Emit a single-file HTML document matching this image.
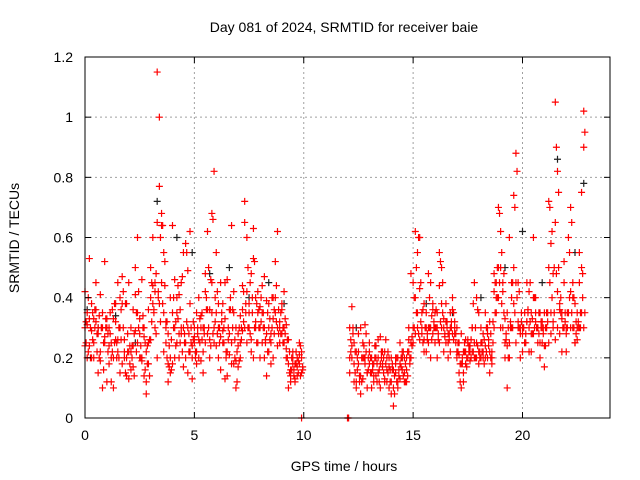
<!DOCTYPE html>
<html><head><meta charset="utf-8"><style>
body{margin:0;background:#fff}
svg{display:block;font-family:"Liberation Sans",sans-serif}
</style></head><body>
<svg id="chart" width="640" height="480">
<rect width="640" height="480" fill="#fff"/>
<text x="344" y="32" text-anchor="middle" font-size="14">Day 081 of 2024, SRMTID for receiver baie</text>
<text x="344" y="471" text-anchor="middle" font-size="14">GPS time / hours</text>
<text transform="translate(19,238) rotate(-90)" text-anchor="middle" font-size="14">SRMTID / TECUs</text>
<g id="grid"></g>
<g id="marks"></g>
<g id="axes"></g>
</svg>
<script>
const xTicks=[0,5,10,15,20];
const yTicks=[0,0.2,0.4,0.6,0.8,1,1.2];
const yTickLabels=["0","0.2","0.4","0.6","0.8","1","1.2"];
const segAStart=0.0, segAStart2=0.05, segBStart=12.1, segBStart2=12.15, step=0.1;
const redA1=[0.42,0.31,0.24,0.2,0.33,0.45,0.28,0.22,0.35,0.52,0.3,0.18,0.25,0.1,0.38,0.22,0.4,0.47,0.2,0.14,0.22,0.3,0.36,0.5,0.6,0.28,0.19,0.14,0.08,0.36,0.5,0.38,0.42,1.15,0.77,0.64,0.55,0.32,0.18,0.15,0.35,0.46,0.25,0.41,0.3,0.55,0.2,0.49,0.62,0.24,0.3,0.18,0.26,0.34,0.22,0.42,0.28,0.36,0.68,0.82,0.55,0.38,0.16,0.29,0.45,0.22,0.36,0.64,0.18,0.1,0.28,0.34,0.44,0.72,0.6,0.38,0.48,0.63,0.4,0.25,0.3,0.44,0.2,0.14,0.38,0.28,0.4,0.52,0.62,0.3,0.36,0.25,0.31,0.18,0.14,0.2,0.12,0.17,0.25,0.2];
const redA2=[0.24,0.35,0.53,0.29,0.2,0.36,0.15,0.41,0.3,0.25,0.12,0.3,0.2,0.33,0.26,0.45,0.15,0.38,0.22,0.2,0.45,0.16,0.24,0.29,0.35,0.2,0.46,0.3,0.12,0.25,0.4,0.6,0.45,0.65,1.0,0.68,0.35,0.25,0.12,0.2,0.64,0.2,0.35,0.28,0.45,0.17,0.58,0.3,0.22,0.13,0.25,0.35,0.2,0.3,0.15,0.48,0.62,0.26,0.45,0.3,0.35,0.2,0.27,0.38,0.13,0.46,0.21,0.18,0.35,0.3,0.17,0.25,0.36,0.65,0.42,0.3,0.22,0.53,0.32,0.42,0.2,0.35,0.47,0.28,0.22,0.18,0.33,0.4,0.24,0.32,0.28,0.42,0.23,0.1,0.16,0.22,0.18,0.14,0.21,0.15];
const redA3=[0.3,0.2,0.33,0.38,0.25,0.32,0.3,0.19,0.1,0.27,0.33,0.24,0.12,0.2,0.32,0.26,0.3,0.18,0.26,0.38,0.13,0.22,0.17,0.41,0.25,0.33,0.2,0.27,0.22,0.18,0.26,0.44,0.3,0.2,0.38,0.45,0.22,0.3,0.28,0.4,0.18,0.3,0.4,0.2,0.28,0.3,0.25,0.15,0.38,0.2,0.27,0.22,0.4,0.19,0.3,0.25,0.36,0.2,0.35,0.25,0.24,0.3,0.45,0.25,0.33,0.14,0.28,0.25,0.42,0.19,0.24,0.2,0.29,0.3,0.25,0.35,0.26,0.2,0.3,0.35,0.37,0.25,0.3,0.39,0.3,0.25,0.2,0.35,0.3,0.25,0.38,0.3,0.2,0.26,0.12,0.18,0.13,0.2,0.18,0.22];
const redA4=[0.25,0.4,0.2,0.35,0.3,0.22,0.34,0.3,0.16,0.33,0.28,0.35,0.22,0.38,0.25,0.2,0.36,0.42,0.15,0.22,0.18,0.24,0.14,0.35,0.42,0.2,0.3,0.16,0.24,0.14,0.45,0.35,0.48,0.42,0.6,0.64,0.52,0.2,0.17,0.16,0.4,0.32,0.44,0.25,0.47,0.28,0.55,0.22,0.3,0.26,0.2,0.28,0.25,0.35,0.3,0.4,0.5,0.46,0.66,0.4,0.42,0.3,0.35,0.25,0.2,0.3,0.4,0.36,0.2,0.12,0.19,0.3,0.42,0.35,0.5,0.45,0.4,0.52,0.38,0.3,0.4,0.35,0.25,0.22,0.33,0.4,0.36,0.44,0.28,0.35,0.3,0.28,0.2,0.15,0.2,0.16,0.22,0.19,0.24,0.17];
const redA5=[0.32,0.22,0.3,0.26,0.36,0.28,0.2,0.3,0.25,0.3,0.22,0.28,0.36,0.25,0.2,0.3,0.26,0.3,0.38,0.28,0.24,0.2,0.28,0.22,0.3,0.24,0.34,0.25,0.18,0.26,0.32,0.36,0.28,0.4,0.32,0.38,0.44,0.32,0.24,0.26,0.3,0.24,0.33,0.36,0.22,0.25,0.32,0.28,0.25,0.32,0.22,0.3,0.33,0.26,0.28,0.36,0.3,0.24,0.28,0.32,0.28,0.25,0.32,0.3,0.22,0.26,0.36,0.3,0.26,0.22,0.3,0.26,0.32,0.38,0.3,0.28,0.35,0.3,0.25,0.36,0.32,0.3,0.26,0.35,0.26,0.3,0.28,0.32,0.36,0.28,0.25,0.33,0.26,0.22,0.16,0.14,0.18,0.15,0.14,0.16];
const redB1=[0.2,0.37,0.25,0.12,0.28,0.08,0.2,0.31,0.15,0.22,0.1,0.18,0.14,0.2,0.27,0.17,0.22,0.12,0.2,0.08,0.04,0.18,0.12,0.25,0.16,0.2,0.12,0.26,0.48,0.3,0.62,0.55,0.43,0.28,0.38,0.22,0.3,0.45,0.36,0.3,0.2,0.55,0.5,0.33,0.25,0.2,0.3,0.4,0.28,0.3,0.21,0.1,0.15,0.22,0.26,0.19,0.3,0.45,0.4,0.22,0.3,0.2,0.35,0.2,0.15,0.2,0.48,0.45,0.7,0.5,0.42,0.33,0.1,0.25,0.4,0.74,0.88,0.45,0.28,0.22,0.35,0.32,0.42,0.28,0.6,0.4,0.3,0.35,0.25,0.17,0.3,0.72,0.58,0.48,1.05,0.82,0.36,0.22,0.45,0.3,0.6,0.7,0.45,0.38,0.26,0.3,0.5,1.02];
const redB2=[0.3,0.24,0.18,0.1,0.22,0.3,0.13,0.18,0.1,0.25,0.15,0.12,0.2,0.26,0.1,0.18,0.13,0.16,0.1,0.2,0.1,0.15,0.2,0.13,0.22,0.12,0.2,0.3,0.25,0.45,0.4,0.3,0.6,0.35,0.26,0.3,0.48,0.2,0.38,0.25,0.35,0.44,0.3,0.22,0.38,0.28,0.22,0.36,0.32,0.22,0.15,0.28,0.12,0.18,0.25,0.22,0.3,0.2,0.25,0.35,0.2,0.28,0.24,0.3,0.22,0.18,0.42,0.4,0.5,0.62,0.3,0.2,0.24,0.6,0.3,0.5,0.45,0.3,0.2,0.3,0.25,0.45,0.22,0.35,0.4,0.32,0.25,0.2,0.3,0.24,0.35,0.5,0.35,0.3,0.65,0.42,0.28,0.33,0.52,0.22,0.35,0.42,0.3,0.25,0.35,0.55,0.75,0.9];
const redB3=[0.15,0.2,0.12,0.22,0.18,0.14,0.25,0.2,0.15,0.18,0.2,0.14,0.24,0.15,0.18,0.22,0.12,0.2,0.17,0.12,0.16,0.2,0.1,0.18,0.2,0.15,0.16,0.22,0.2,0.25,0.28,0.35,0.26,0.3,0.22,0.35,0.25,0.3,0.28,0.35,0.3,0.25,0.38,0.3,0.32,0.25,0.35,0.28,0.3,0.2,0.25,0.18,0.22,0.26,0.2,0.24,0.22,0.25,0.2,0.18,0.25,0.22,0.2,0.28,0.32,0.22,0.3,0.35,0.4,0.3,0.45,0.25,0.35,0.2,0.45,0.38,0.25,0.32,0.3,0.28,0.25,0.32,0.3,0.22,0.28,0.35,0.3,0.25,0.32,0.35,0.3,0.25,0.28,0.32,0.26,0.3,0.38,0.35,0.3,0.28,0.35,0.3,0.4,0.25,0.3,0.45,0.35,0.3];
const redB4=[0.26,0.3,0.22,0.16,0.12,0.2,0.24,0.28,0.2,0.15,0.18,0.24,0.12,0.16,0.22,0.2,0.26,0.15,0.12,0.16,0.08,0.2,0.14,0.17,0.22,0.12,0.14,0.2,0.27,0.4,0.5,0.6,0.45,0.36,0.3,0.26,0.4,0.34,0.3,0.36,0.26,0.52,0.45,0.28,0.32,0.26,0.3,0.35,0.25,0.25,0.12,0.18,0.22,0.17,0.24,0.2,0.38,0.3,0.36,0.22,0.25,0.18,0.3,0.26,0.2,0.32,0.45,0.5,0.68,0.55,0.48,0.26,0.2,0.3,0.45,0.7,0.82,0.42,0.35,0.3,0.25,0.36,0.45,0.33,0.4,0.3,0.35,0.3,0.28,0.24,0.35,0.7,0.62,0.5,0.9,0.75,0.4,0.3,0.35,0.35,0.55,0.65,0.4,0.32,0.3,0.35,0.48,0.95];
const redB5=[0.22,0.28,0.15,0.2,0.14,0.12,0.2,0.22,0.16,0.2,0.16,0.2,0.18,0.12,0.2,0.15,0.18,0.22,0.16,0.18,0.14,0.12,0.16,0.2,0.14,0.18,0.22,0.18,0.24,0.3,0.35,0.28,0.32,0.25,0.3,0.28,0.3,0.26,0.32,0.3,0.28,0.32,0.35,0.27,0.3,0.28,0.32,0.26,0.28,0.22,0.18,0.2,0.25,0.2,0.22,0.26,0.22,0.2,0.24,0.2,0.22,0.26,0.22,0.24,0.28,0.25,0.35,0.4,0.45,0.38,0.35,0.28,0.3,0.32,0.3,0.35,0.4,0.3,0.32,0.3,0.28,0.35,0.32,0.28,0.3,0.3,0.28,0.32,0.3,0.3,0.32,0.45,0.4,0.35,0.48,0.5,0.35,0.3,0.32,0.3,0.4,0.35,0.3,0.28,0.32,0.3,0.4,0.35];
const zeroTimes=[9.9,12.0,12.05];
const zeroValues=[0,0,0];
const blackTimes=[0.1,0.6,1.4,2.3,3.3,4.2,4.9,5.7,6.6,7.5,8.4,9.1,12.4,13.3,14.5,15.6,16.8,18.1,19.2,20.0,20.9,21.6,22.4,22.8];
const blackValues=[0.36,0.3,0.34,0.25,0.72,0.6,0.55,0.48,0.5,0.4,0.45,0.38,0.3,0.24,0.2,0.38,0.35,0.4,0.5,0.62,0.45,0.86,0.55,0.78];

const L=85,R=610,T=57,B=418,XMAX=24,YMAX=1.2;
const xs=v=>L+v/XMAX*(R-L);
const ys=v=>B-v/YMAX*(B-T);
const NS="http://www.w3.org/2000/svg";
function mk(tag,attrs,parent){const e=document.createElementNS(NS,tag);for(const k in attrs)e.setAttribute(k,attrs[k]);parent.appendChild(e);return e;}
const grid=document.getElementById('grid'),marks=document.getElementById('marks'),axes=document.getElementById('axes');
xTicks.forEach(t=>{
  if(t>0){const g=mk('line',{x1:xs(t),x2:xs(t),y1:T,y2:B,stroke:'#a0a0a0','stroke-dasharray':'2,3'},grid);
  
  }
  mk('line',{x1:xs(t),x2:xs(t),y1:B,y2:B-6,stroke:'#000'},axes);
  mk('line',{x1:xs(t),x2:xs(t),y1:T,y2:T+6,stroke:'#000'},axes);
  const lb=mk('text',{x:xs(t),y:B+22,'text-anchor':'middle','font-size':14},axes);lb.textContent=t;
  
  
});
yTicks.forEach((t,i)=>{
  if(t>0&&t<YMAX){const g=mk('line',{x1:L,x2:R,y1:ys(t),y2:ys(t),stroke:'#a0a0a0','stroke-dasharray':'2,3'},grid);
  
  }
  mk('line',{x1:L,x2:L+6,y1:ys(t),y2:ys(t),stroke:'#000'},axes);
  mk('line',{x1:R,x2:R-6,y1:ys(t),y2:ys(t),stroke:'#000'},axes);
  const lb=mk('text',{x:L-12,y:ys(t)+5,'text-anchor':'end','font-size':14},axes);lb.textContent=yTickLabels[i];
  
  
});
const frame=mk('rect',{x:L,y:T,width:R-L,height:B-T,fill:'none',stroke:'#000'},axes);


function plus(t,v,color,name){
  const x=xs(t),y=ys(v);
  const p=mk('path',{d:`M${x-3.5} ${y}H${x+3.5}M${x} ${y-3.5}V${y+3.5}`,stroke:color,'stroke-width':1.2,fill:'none'},marks);
  
  
}
blackTimes.forEach((t,i)=>plus(t,blackValues[i],'#202020','black-point'));
[redA1,redA2,redA3].forEach(arr=>arr.forEach((v,i)=>plus(segAStart+i*step,v,'#ff0000','red-point')));
[redA4,redA5].forEach(arr=>arr.forEach((v,i)=>plus(segAStart2+i*step,v,'#ff0000','red-point')));
[redB1,redB2,redB3].forEach(arr=>arr.forEach((v,i)=>plus(segBStart+i*step,v,'#ff0000','red-point')));
[redB4,redB5].forEach(arr=>arr.forEach((v,i)=>plus(segBStart2+i*step,v,'#ff0000','red-point')));
zeroTimes.forEach((t,i)=>plus(t,zeroValues[i],'#ff0000','red-point'));
</script>
</body></html>
